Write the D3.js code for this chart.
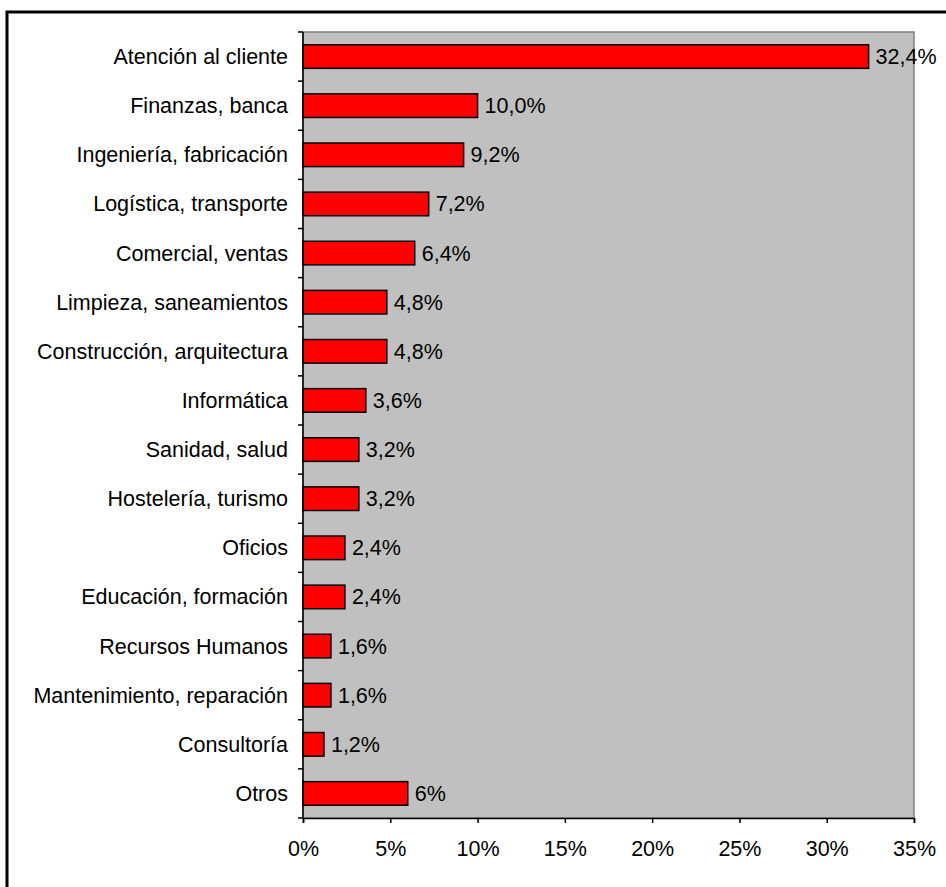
<!DOCTYPE html>
<html>
<head>
<meta charset="utf-8">
<script src="https://cdn.jsdelivr.net/npm/d3@7"></script>
<style>
  body { margin: 0; background: #fff; }
  text { font-family: "Liberation Sans", Arial, sans-serif; }
</style>
</head>
<body>
<svg id="chart" width="946" height="887"></svg>
<script>
const categories = ["Atención al cliente", "Finanzas, banca", "Ingeniería, fabricación",
  "Logística, transporte", "Comercial, ventas", "Limpieza, saneamientos",
  "Construcción, arquitectura", "Informática", "Sanidad, salud", "Hostelería, turismo",
  "Oficios", "Educación, formación", "Recursos Humanos", "Mantenimiento, reparación",
  "Consultoría", "Otros"];
const values = [32.4, 10.0, 9.2, 7.2, 6.4, 4.8, 4.8, 3.6, 3.2, 3.2, 2.4, 2.4, 1.6, 1.6, 1.2, 6];
const valueLabels = ["32,4%", "10,0%", "9,2%", "7,2%", "6,4%", "4,8%", "4,8%", "3,6%",
  "3,2%", "3,2%", "2,4%", "2,4%", "1,6%", "1,6%", "1,2%", "6%"];
const xTicks = [0, 5, 10, 15, 20, 25, 30, 35];

const svg = d3.select("#chart");
const margin = { top: 32, right: 32, bottom: 69, left: 303 };
const width = 946 - margin.left - margin.right;
const height = 887 - margin.top - margin.bottom;
const fs = 21.5;

// outer frame (runs off the page on the right and bottom)
svg.append("rect")
  .attr("x", 7).attr("y", 12)
  .attr("width", 1000).attr("height", 1000)
  .attr("fill", "none").attr("stroke", "#000").attr("stroke-width", 3);

const g = svg.append("g")
  .attr("transform", "translate(" + margin.left + "," + margin.top + ")");

const x = d3.scaleLinear().domain([0, 35]).range([0, width]);
const y = d3.scaleBand().domain(categories).range([0, height]).paddingInner(0.52).paddingOuter(0.26);

// plot background
g.append("rect")
  .attr("width", width).attr("height", height)
  .attr("fill", "#c0c0c0").attr("stroke", "#808080").attr("stroke-width", 1.5);

// bars
g.selectAll(".bar").data(values)
  .enter().append("rect")
  .attr("class", "bar")
  .attr("x", x(0))
  .attr("y", (d, i) => y(categories[i]))
  .attr("width", d => x(d) - x(0))
  .attr("height", y.bandwidth())
  .attr("fill", "#ff0000")
  .attr("stroke", "#000")
  .attr("stroke-width", 1.5);

// value labels
g.selectAll(".val").data(values)
  .enter().append("text")
  .attr("class", "val")
  .attr("x", d => x(d) + 7)
  .attr("y", (d, i) => y(categories[i]) + y.bandwidth() / 2)
  .attr("dy", "0.35em")
  .attr("font-size", fs)
  .attr("fill", "#000")
  .text((d, i) => valueLabels[i]);

// y axis: ticks at band boundaries
const step = y.step();
const yAxis = g.append("g");
yAxis.append("line")
  .attr("x1", 0).attr("x2", 0).attr("y1", 0).attr("y2", height)
  .attr("stroke", "#000").attr("stroke-width", 1.5);
yAxis.selectAll(".ytick").data(d3.range(categories.length + 1))
  .enter().append("line")
  .attr("x1", -5).attr("x2", 0)
  .attr("y1", i => i * step).attr("y2", i => i * step)
  .attr("stroke", "#000").attr("stroke-width", 1.5);
yAxis.selectAll(".ylab").data(categories)
  .enter().append("text")
  .attr("x", -15)
  .attr("y", d => y(d) + y.bandwidth() / 2)
  .attr("dy", "0.35em")
  .attr("text-anchor", "end")
  .attr("font-size", fs)
  .text(d => d);

// x axis
const xAxis = g.append("g")
  .attr("transform", "translate(0," + height + ")")
  .call(d3.axisBottom(x).tickValues(xTicks).tickSize(5).tickPadding(18).tickFormat(d => d + "%"));
xAxis.select(".domain").attr("stroke", "#000").attr("stroke-width", 1.5);
xAxis.selectAll(".tick line").attr("stroke", "#000").attr("stroke-width", 1.5);
xAxis.selectAll(".tick text")
  .attr("font-size", fs)
  .attr("font-family", "Liberation Sans, Arial, sans-serif")
  .attr("fill", "#000");
</script>
</body>
</html>
